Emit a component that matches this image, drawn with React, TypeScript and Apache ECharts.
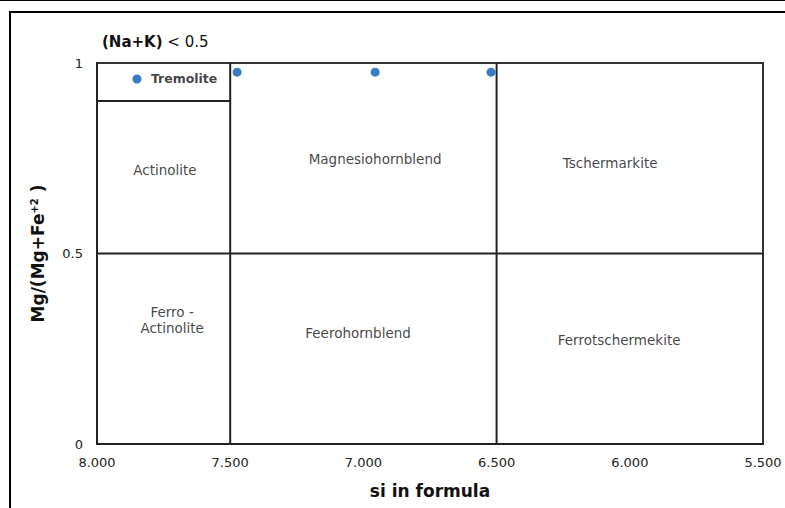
import React, { useEffect, useRef } from "react";
import * as echarts from "echarts";

const xTicks = [8, 7.5, 7, 6.5, 6, 5.5];
const yTicks = [0, 0.5, 1];
const xRange = [5.5, 8];
const yRange = [0, 1];

// Sample points: [Si in formula, Mg/(Mg+Fe2+)]
const samples: [number, number][] = [
  [7.85, 0.958],
  [7.474, 0.976],
  [6.956, 0.976],
  [6.521, 0.976],
];

// Field boundaries
const siBoundaries = [7.5, 6.5];
const mgBoundary = 0.5;
const tremoliteBoundary = 0.9;

// Field names and their label anchor (Si, Mg#)
const fieldNames = [
  "Actinolite",
  "Magnesiohornblend",
  "Tschermarkite",
  "Ferro -\nActinolite",
  "Feerohornblend",
  "Ferrotschermekite",
];
const fieldAnchors: [number, number][] = [
  [7.745, 0.719],
  [6.956, 0.748],
  [6.074, 0.738],
  [7.718, 0.325],
  [7.02, 0.291],
  [6.04, 0.273],
];
const tremoliteName = "Tremolite";
const tremoliteAnchor: [number, number] = [7.673, 0.96];

const FONT = "DejaVu Sans";

export default function App() {
  const ref = useRef<HTMLDivElement>(null);

  useEffect(() => {
    if (!ref.current) return;
    const chart = echarts.init(ref.current, null, { renderer: "svg" });

    const lineStyle = { color: "#222", width: 2 };
    const boundarySeries: any[] = [
      ...siBoundaries.map((s) => ({
        type: "line",
        data: [
          [s, yRange[0]],
          [s, yRange[1]],
        ],
        symbol: "none",
        lineStyle,
        silent: true,
      })),
      {
        type: "line",
        data: [
          [xRange[1], mgBoundary],
          [xRange[0], mgBoundary],
        ],
        symbol: "none",
        lineStyle,
        silent: true,
      },
      {
        type: "line",
        data: [
          [xRange[1], tremoliteBoundary],
          [siBoundaries[0], tremoliteBoundary],
        ],
        symbol: "none",
        lineStyle,
        silent: true,
      },
    ];

    chart.setOption({
      animation: false,
      backgroundColor: "#fff",
      title: {
        text: "{b|(Na+K)}{r| < 0.5}",
        left: 102,
        top: 34,
        padding: 0,
        textStyle: {
          rich: {
            b: { fontFamily: FONT, fontWeight: "bold", fontSize: 15, color: "#111" },
            r: { fontFamily: FONT, fontWeight: "normal", fontSize: 15, color: "#111" },
          },
        },
      },
      grid: {
        left: 97,
        right: 22,
        top: 63,
        bottom: 64,
        show: true,
        borderColor: "#333",
        borderWidth: 2,
        backgroundColor: "transparent",
      },
      xAxis: {
        type: "value",
        inverse: true,
        min: xRange[0],
        max: xRange[1],
        interval: 0.5,
        name: "si in formula",
        nameLocation: "middle",
        nameGap: 38,
        nameTextStyle: { fontFamily: FONT, fontWeight: "bold", fontSize: 17, color: "#111" },
        axisLine: { show: true, lineStyle: { color: "#222", width: 2 } },
        axisTick: { show: false },
        splitLine: { show: false },
        axisLabel: {
          margin: 12,
          fontFamily: FONT,
          fontSize: 13,
          color: "#222",
          formatter: (v: number) => v.toFixed(3),
          customValues: xTicks,
        },
      },
      yAxis: {
        type: "value",
        min: yRange[0],
        max: yRange[1],
        interval: 0.5,
        name: "Mg/(Mg+Fe{sup|+2} )",
        nameLocation: "middle",
        nameRotate: 90,
        nameGap: 50,
        nameTextStyle: {
          fontFamily: FONT,
          fontWeight: "bold",
          fontSize: 17,
          color: "#111",
          rich: {
            sup: {
              fontFamily: FONT,
              fontWeight: "bold",
              fontSize: 10,
              color: "#111",
              verticalAlign: "top",
              padding: [0, 0, 8, 0],
            },
          },
        },
        axisLine: { show: true, lineStyle: { color: "#222", width: 2 } },
        axisTick: { show: false },
        splitLine: { show: false },
        axisLabel: {
          margin: 14,
          fontFamily: FONT,
          fontSize: 13,
          color: "#222",
          formatter: (v: number) => String(v),
          customValues: yTicks,
        },
      },
      graphic: [
        { type: "line", shape: { x1: 0, y1: 0.5, x2: 785, y2: 0.5 }, style: { stroke: "#000", lineWidth: 1 } },
        { type: "line", shape: { x1: 9, y1: 12, x2: 785, y2: 12 }, style: { stroke: "#000", lineWidth: 2 } },
        { type: "line", shape: { x1: 10, y1: 12, x2: 10, y2: 508 }, style: { stroke: "#000", lineWidth: 2 } },
      ],
      series: [
        ...boundarySeries,
        {
          type: "scatter",
          data: samples,
          symbol: "circle",
          symbolSize: 9,
          itemStyle: { color: "#3a7cc4", opacity: 1 },
          z: 5,
        },
        {
          type: "scatter",
          symbolSize: 0,
          silent: true,
          data: fieldNames.map((n, i) => ({ name: n, value: fieldAnchors[i] })),
          label: {
            show: true,
            position: "inside",
            formatter: (p: any) => p.name,
            fontFamily: FONT,
            fontSize: 13.5,
            color: "#111",
            lineHeight: 16,
            align: "center",
          },
        },
        {
          type: "scatter",
          symbolSize: 0,
          silent: true,
          data: [{ name: tremoliteName, value: tremoliteAnchor }],
          label: {
            show: true,
            position: "inside",
            formatter: (p: any) => p.name,
            fontFamily: FONT,
            fontSize: 12.5,
            fontWeight: "bold",
            color: "#111",
          },
        },
      ],
    });

    return () => chart.dispose();
  }, []);

  return (
    <div
      ref={ref}
      style={{ position: "absolute", left: 0, top: 0, width: 785, height: 508 }}
    />
  );
}
